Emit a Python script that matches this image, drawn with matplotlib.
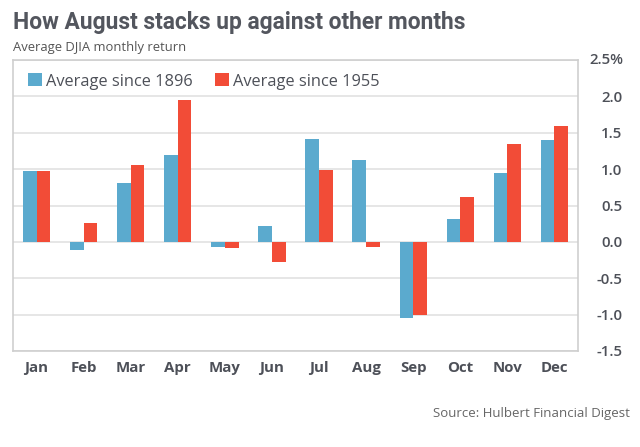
import matplotlib
matplotlib.use("Agg")
import matplotlib.pyplot as plt
import numpy as np

months = ["Jan", "Feb", "Mar", "Apr", "May", "Jun", "Jul", "Aug", "Sep", "Oct", "Nov", "Dec"]
since_1896 = [0.97, -0.11, 0.81, 1.20, -0.07, 0.22, 1.42, 1.13, -1.05, 0.31, 0.95, 1.40]
since_1955 = [0.97, 0.26, 1.06, 1.95, -0.09, -0.27, 0.99, -0.07, -1.00, 0.61, 1.34, 1.59]
yticks = [-1.5, -1.0, -0.5, 0.0, 0.5, 1.0, 1.5, 2.0, 2.5]
ytick_labels = ["-1.5", "-1.0", "-0.5", "0.0", "0.5", "1.0", "1.5", "2.0", "2.5%"]
series_names = ["Average since 1896", "Average since 1955"]

blue = "#5BAACE"
red = "#F24C37"
W, H = 640, 447
fig = plt.figure(figsize=(W / 100, H / 100), dpi=100)
fig.patch.set_facecolor("white")

ax = fig.add_axes([13 / W, 1 - 351 / H, (578 - 13) / W, (351 - 60) / H])
x = np.arange(len(months))
bw = 0.29
ax.bar(x - bw / 2, since_1896, bw, color=blue, label=series_names[0], zorder=3)
ax.bar(x + bw / 2, since_1955, bw, color=red, label=series_names[1], zorder=3)

ax.set_xlim(-0.5, len(months) - 0.5)
ax.set_ylim(-1.5, 2.5)
ax.set_yticks(yticks)
# the top label is drawn separately so that its digits line up with the others
ax.set_yticklabels(ytick_labels[:-1] + [""])
ax.yaxis.tick_right()
ax.grid(axis="y", color="#e2e2e2", linewidth=1.2, zorder=0)
for s in ax.spines.values():
    s.set_color("#cfcfcf")
    s.set_linewidth(1.2)
ax.tick_params(axis="y", length=0, pad=32, labelsize=10.8, labelcolor="#4d5058")
for lab in ax.get_yticklabels():
    lab.set_horizontalalignment("right")
    lab.set_fontfamily("Open Sans")
    lab.set_fontweight("semibold")
ax.set_xticks(x)
ax.set_xticklabels(months, fontfamily="Open Sans", fontweight="bold", fontsize=10.8, color="#4d5058")
ax.tick_params(axis="x", length=0, pad=7)

ax.text(1 + 11 / 565, yticks[-1], ytick_labels[-1], transform=ax.get_yaxis_transform(),
        ha="left", va="center", fontsize=10.8, fontfamily="Open Sans",
        fontweight="semibold", color="#4d5058")

leg = ax.legend(loc="upper left", ncol=2, frameon=False,
                prop={"family": "Open Sans", "size": 11.8},
                handlelength=0.85, handleheight=0.85, handletextpad=0.25,
                columnspacing=1.4, borderaxespad=0.5, bbox_to_anchor=(0.0, 1.005))
for t in leg.get_texts():
    t.set_color("#4d5058")

fig.text(13 / W, 1 - 22 / H, "How August stacks up against other months", ha="left", va="center",
         fontsize=16.4, fontfamily="Roboto", fontweight="bold", color="#53565e")
fig.text(13 / W, 1 - 47 / H, "Average DJIA monthly return", ha="left", va="center",
         fontsize=9.4, fontfamily="Open Sans", color="#555555")
fig.text(630 / W, 1 - 413 / H, "Source: Hulbert Financial Digest", ha="right", va="center",
         fontsize=9.5, fontfamily="Open Sans", color="#666666")

fig.savefig("out.png", dpi=100)
